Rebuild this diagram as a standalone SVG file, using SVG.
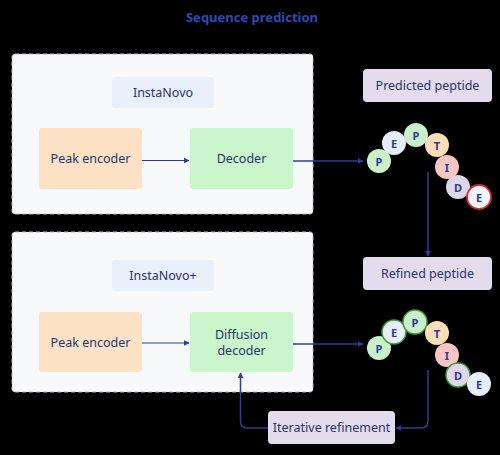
<svg xmlns="http://www.w3.org/2000/svg" width="500" height="455" viewBox="0 0 500 455">
<defs>
<style>
text{font-family:"Noto Sans","Liberation Sans",sans-serif;fill:#27356f;font-size:12.5px;text-anchor:middle;dominant-baseline:central}
.title{font-weight:bold;fill:#2e4bb0;font-size:13px}
.panel{fill:#f8f9fa;stroke:#b9bcc4;stroke-width:1;stroke-dasharray:4 3}
.lbl{fill:#eaf0fb}
.enc{fill:#fde2c6}
.dec{fill:#cbf5cb}
.pep{fill:#e4dbec}
.ln{fill:none;stroke:#2a3f99;stroke-width:1.5}
.ln2{fill:none;stroke:#2a3f99;stroke-width:1}
.aa{font-size:11px;font-weight:bold;fill:#2b3a9a}
.g{fill:#c9f0c9}.b{fill:#e8edfa}.o{fill:#fddcb8}.r{fill:#f8c6c2}.v{fill:#e0d6ea}
.gs{stroke:#3c9a3c;stroke-width:1.5}
</style>
<marker id="ah" viewBox="0 0 10 10" refX="9" refY="5" markerWidth="6" markerHeight="6" orient="auto-start-reverse" markerUnits="userSpaceOnUse">
<path d="M0,0 L10,5 L0,10 z" fill="#2a3f99"/>
</marker>
</defs>
<rect width="500" height="455" fill="#000"/>
<g id="title"><text class="title" x="252" y="17">Sequence prediction</text></g>

<g id="panel-instanovo">
<rect class="panel" x="12" y="54" width="301" height="160" rx="3"/>
<rect class="lbl" x="112" y="77" width="102" height="31" rx="3"/>
<text x="163" y="92.5">InstaNovo</text>
</g>
<g id="peak-encoder-1"><rect class="enc" x="39" y="128" width="103" height="61" rx="3"/><text x="90.5" y="158.5">Peak encoder</text></g>
<g id="decoder"><rect class="dec" x="190" y="128" width="103" height="61" rx="3"/><text x="241.5" y="158.5">Decoder</text></g>

<g id="panel-instanovoplus">
<rect class="panel" x="12" y="232" width="301" height="160" rx="3"/>
<rect class="lbl" x="112" y="260" width="102" height="31" rx="3"/>
<text x="163" y="275.5">InstaNovo+</text>
</g>
<g id="peak-encoder-2"><rect class="enc" x="39" y="312" width="103" height="60" rx="3"/><text x="90.5" y="342">Peak encoder</text></g>
<g id="diffusion-decoder"><rect class="dec" x="190" y="312" width="103" height="60" rx="3"/><text x="241.5" y="334">Diffusion</text><text x="241.5" y="350">decoder</text></g>

<g id="predicted-peptide"><rect class="pep" x="363" y="69" width="129" height="33" rx="4"/><text x="427.5" y="85.5">Predicted peptide</text></g>
<g id="refined-peptide"><rect class="pep" x="363" y="257" width="129" height="33" rx="4"/><text x="427.5" y="273.5">Refined peptide</text></g>
<g id="iterative-refinement"><rect class="pep" x="268" y="411" width="127" height="33" rx="4"/><text x="331.5" y="427.5">Iterative refinement</text></g>

<g id="peptide-1">
<circle class="g" cx="379" cy="161" r="12"/><text class="aa" x="379" y="161">P</text>
<circle class="b" cx="394" cy="143" r="12"/><text class="aa" x="394" y="143">E</text>
<circle class="g" cx="416" cy="135" r="12"/><text class="aa" x="416" y="135">P</text>
<circle class="o" cx="437" cy="145" r="12"/><text class="aa" x="437" y="145">T</text>
<circle class="r" cx="447" cy="167" r="12"/><text class="aa" x="447" y="167">I</text>
<circle class="v" cx="458" cy="187" r="12"/><text class="aa" x="458" y="187">D</text>
<circle fill="#f4f6fc" stroke="#d8283a" stroke-width="1.8" cx="479" cy="197" r="12"/><text class="aa" x="479" y="197">E</text>
</g>
<g id="peptide-2">
<circle class="g" cx="379" cy="348" r="12"/><text class="aa" x="379" y="348">P</text>
<circle class="b gs" cx="394" cy="332" r="12"/><text class="aa" x="394" y="332">E</text>
<circle class="g gs" cx="415" cy="322" r="12"/><text class="aa" x="415" y="322">P</text>
<circle class="o" cx="437" cy="333" r="12"/><text class="aa" x="437" y="333">T</text>
<circle class="r" cx="447" cy="355" r="12"/><text class="aa" x="447" y="355">I</text>
<circle class="v gs" cx="458" cy="375" r="12"/><text class="aa" x="458" y="375">D</text>
<circle class="b" cx="479" cy="384" r="12"/><text class="aa" x="479" y="384">E</text>
</g>

<g id="connectors">
<line class="ln2" x1="142" y1="160.5" x2="189" y2="160.5" marker-end="url(#ah)"/>
<line class="ln2" x1="142" y1="343" x2="189" y2="343" marker-end="url(#ah)"/>
<line class="ln" x1="293" y1="161" x2="363" y2="161" marker-end="url(#ah)"/>
<line class="ln" x1="293" y1="344" x2="363" y2="344" marker-end="url(#ah)"/>
<line class="ln" x1="428" y1="172" x2="428" y2="256" marker-end="url(#ah)"/>
<path class="ln" d="M428,370 V421 Q428,428 421,428 H396" marker-end="url(#ah)"/>
<path class="ln" d="M268,428 H247 Q240.5,428 240.5,421 V373" marker-end="url(#ah)"/>
</g>
</svg>
